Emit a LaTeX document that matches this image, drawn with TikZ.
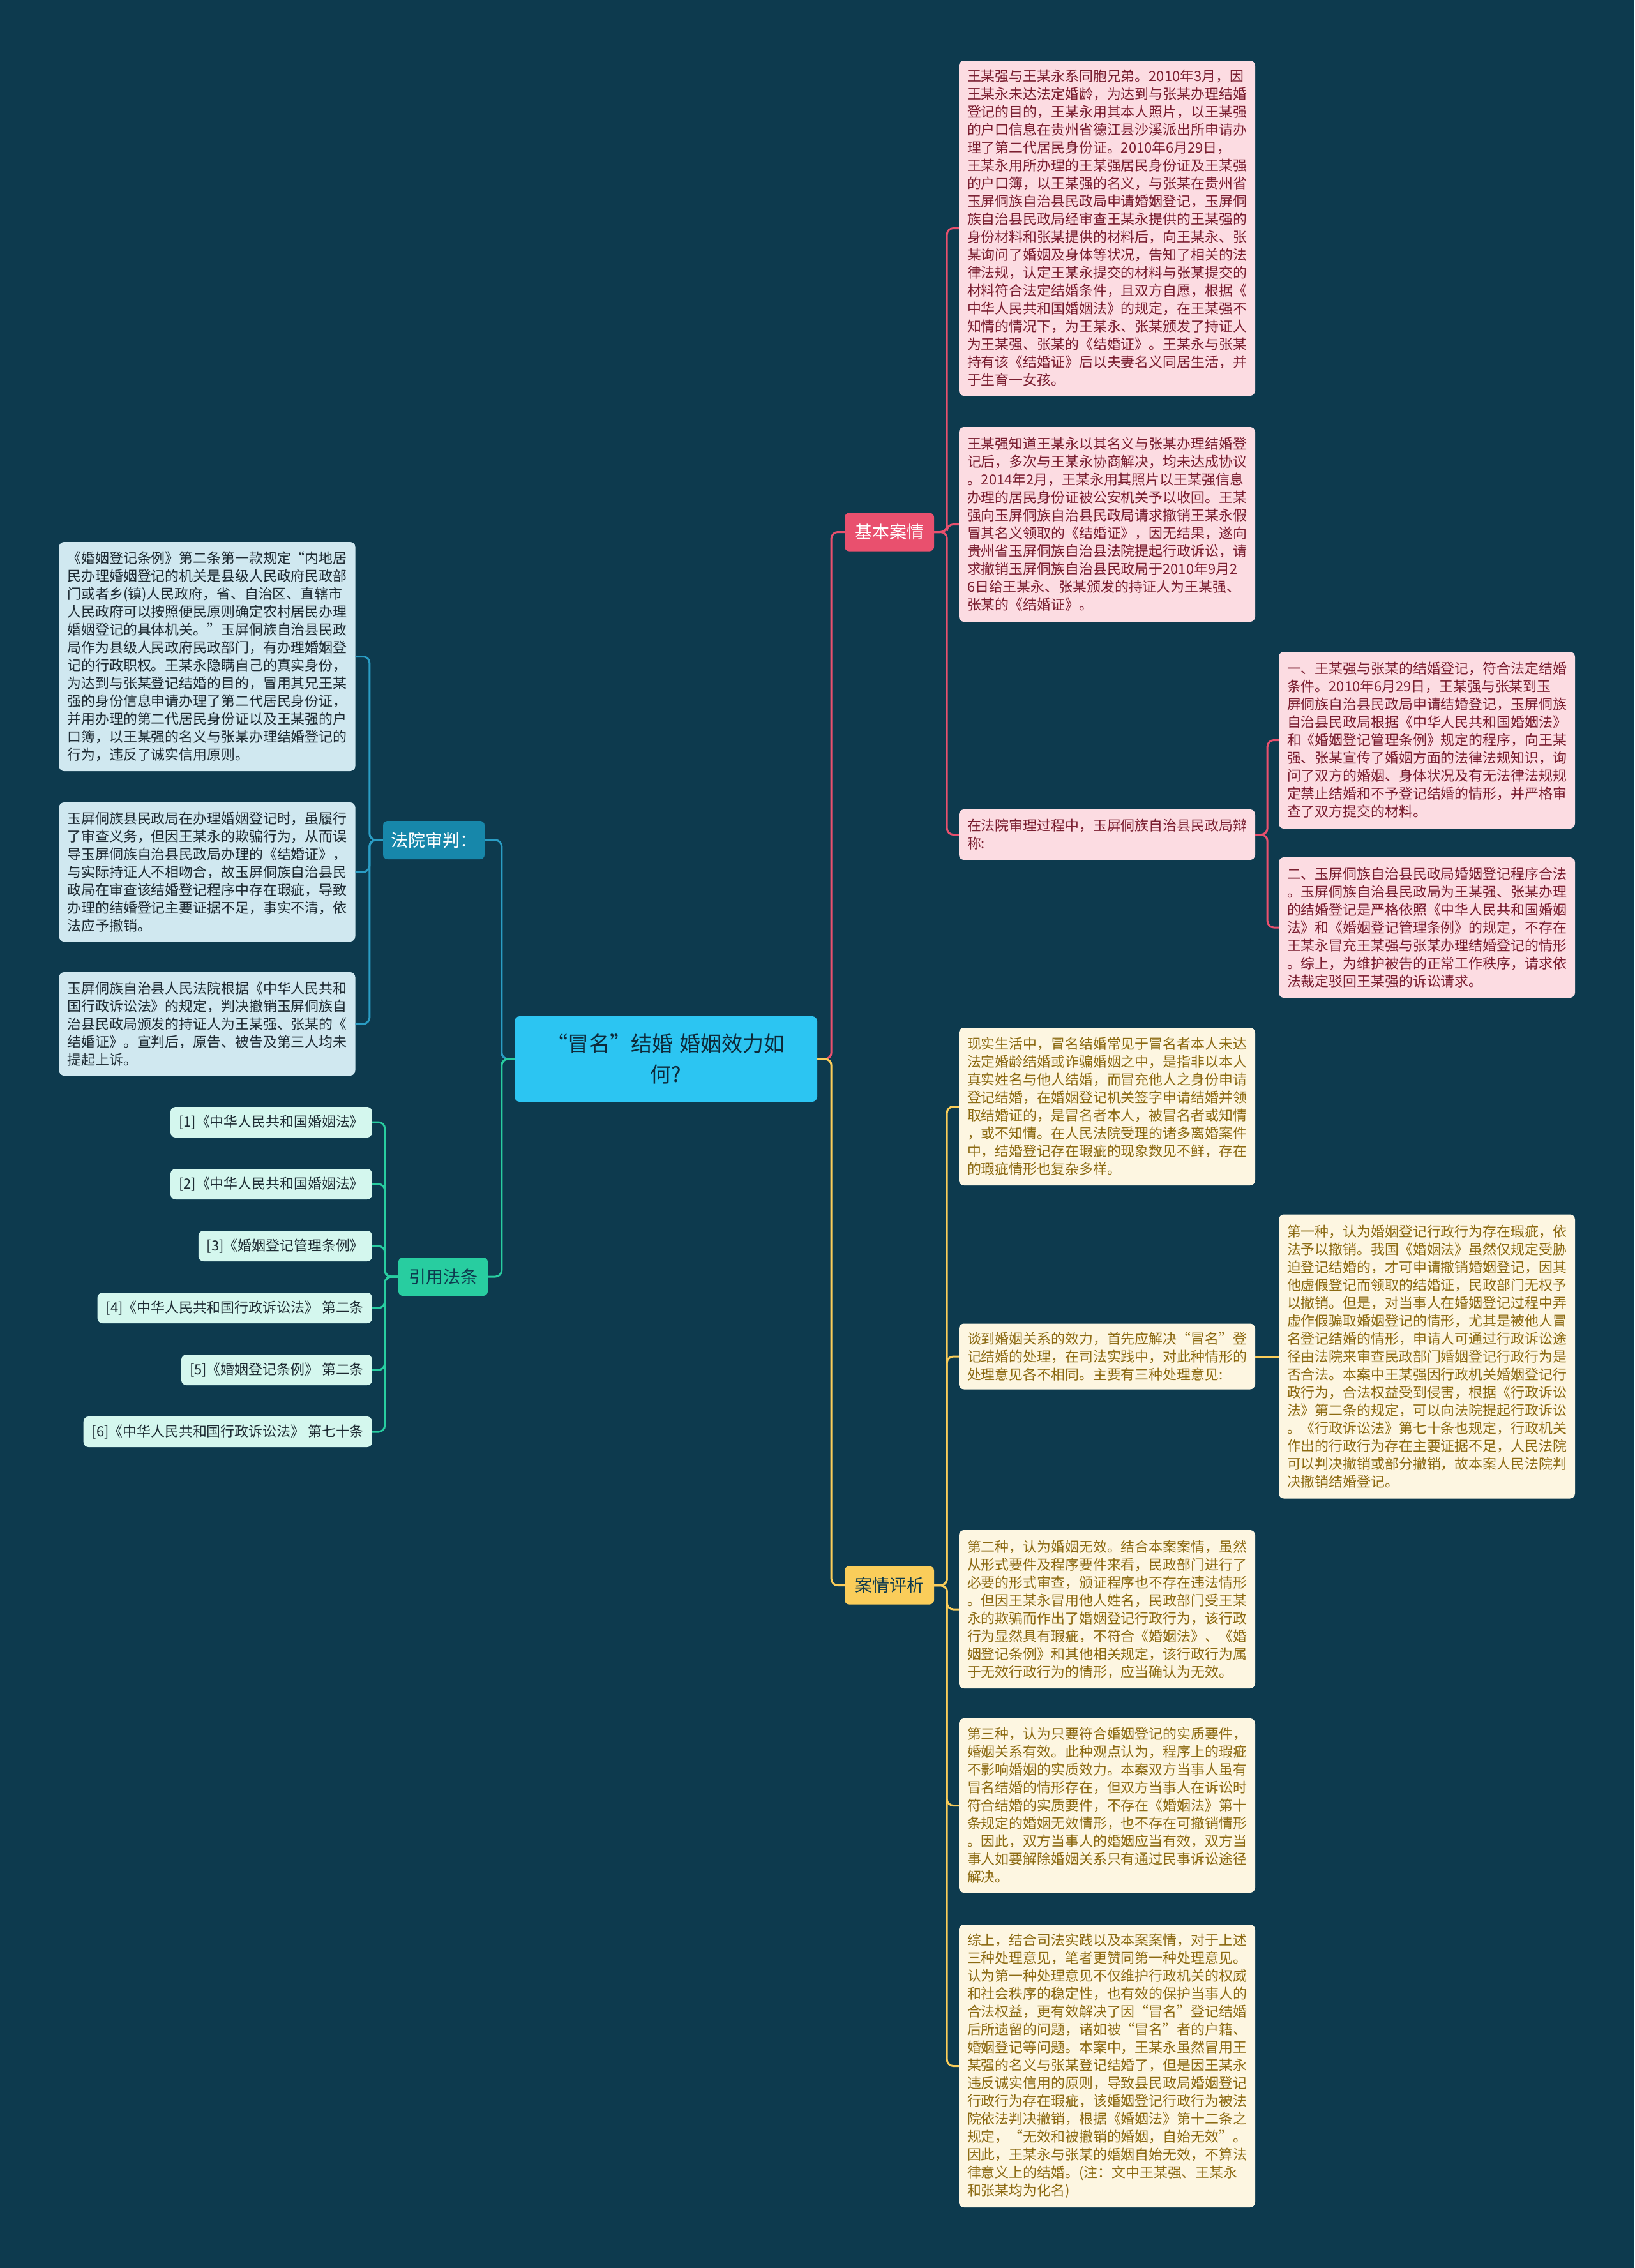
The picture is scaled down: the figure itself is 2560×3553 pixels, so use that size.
\documentclass[tikz,border=0pt]{standalone}
\usepackage{fontspec}
\newfontfamily\cjk{Noto Sans CJK SC}
\definecolor{bgcol}{HTML}{0D3A4E}
\definecolor{topicfill}{HTML}{2CC5F2}
\definecolor{topictext}{HTML}{0D2A3A}
\definecolor{pinkmain}{HTML}{E9506E}
\definecolor{pinkfill}{HTML}{FCDCE2}
\definecolor{pinktext}{HTML}{7A1E30}
\definecolor{bluemain}{HTML}{1787AA}
\definecolor{blueline}{HTML}{2A9DC4}
\definecolor{bluefill}{HTML}{D0E8F0}
\definecolor{greenmain}{HTML}{28CDA0}
\definecolor{mintfill}{HTML}{D4F7EE}
\definecolor{yellowmain}{HTML}{FACD5A}
\definecolor{creamfill}{HTML}{FDF6E1}
\definecolor{creamtext}{HTML}{8C6A12}
\definecolor{darktext}{HTML}{1E2B33}
\tikzset{
	leaf/.style = {rectangle, rounded corners=8pt, inner xsep=13pt, inner ysep=4pt, text width=438pt, align=left, font=\cjk\fontsize{21.9pt}{28pt}\selectfont},
	pinkleaf/.style = {leaf, fill=pinkfill, text=pinktext},
	blueleaf/.style = {leaf, fill=bluefill, text=darktext},
	creamleaf/.style = {leaf, fill=creamfill, text=creamtext},
	lawref/.style = {rectangle, rounded corners=8pt, fill=mintfill, text=darktext, inner xsep=13pt, minimum height=48pt, anchor=east, font=\cjk\fontsize{21.9pt}{26pt}\selectfont},
	branch/.style = {rectangle, rounded corners=7pt, inner xsep=12pt, minimum width=140pt, minimum height=60pt, font=\cjk\fontsize{27pt}{32pt}\selectfont},
	conn/.style = {line width=3pt, rounded corners=10pt}
}
\begin{document}
\begin{tikzpicture}[x=1pt, y=-1pt]
	\fill[bgcol] (0,0) rectangle (2560,3553);
	\useasboundingbox (0,0) rectangle (2560,3553);
	\node[rectangle, rounded corners=8pt, fill=topicfill, text=topictext, minimum width=474pt, minimum height=134pt, text width=440pt, align=center, font=\cjk\fontsize{33pt}{48pt}\selectfont] (topic) at (1043,1659) {“冒名”结婚 婚姻效力如\\何?};
	\node[branch, fill=pinkmain, text=white] (jb) at (1393,833.5) {基本案情};
	\node[branch, fill=bluemain, text=white] (fy) at (679.5,1316) {法院审判：};
	\node[branch, fill=greenmain, text=bgcol] (yy) at (694,2000) {引用法条};
	\node[branch, fill=yellowmain, text=bgcol] (ax) at (1393,2483.5) {案情评析};
	\node[pinkleaf, minimum height=525pt] (p1) at (1734,357.5) {王某强与王某永系同胞兄弟。2010年3月，因\\
王某永未达法定婚龄，为达到与张某办理结婚\\
登记的目的，王某永用其本人照片，以王某强\\
的户口信息在贵州省德江县沙溪派出所申请办\\
理了第二代居民身份证。2010年6月29日，\\
王某永用所办理的王某强居民身份证及王某强\\
的户口簿，以王某强的名义，与张某在贵州省\\
玉屏侗族自治县民政局申请婚姻登记，玉屏侗\\
族自治县民政局经审查王某永提供的王某强的\\
身份材料和张某提供的材料后，向王某永、张\\
某询问了婚姻及身体等状况，告知了相关的法\\
律法规，认定王某永提交的材料与张某提交的\\
材料符合法定结婚条件，且双方自愿，根据《\\
中华人民共和国婚姻法》的规定，在王某强不\\
知情的情况下，为王某永、张某颁发了持证人\\
为王某强、张某的《结婚证》。王某永与张某\\
持有该《结婚证》后以夫妻名义同居生活，并\\
于生育一女孩。};
	\node[pinkleaf, minimum height=305pt] (p2) at (1734,821.5) {王某强知道王某永以其名义与张某办理结婚登\\
记后，多次与王某永协商解决，均未达成协议\\
。2014年2月，王某永用其照片以王某强信息\\
办理的居民身份证被公安机关予以收回。王某\\
强向玉屏侗族自治县民政局请求撤销王某永假\\
冒其名义领取的《结婚证》，因无结果，遂向\\
贵州省玉屏侗族自治县法院提起行政诉讼，请\\
求撤销玉屏侗族自治县民政局于2010年9月2\\
6日给王某永、张某颁发的持证人为王某强、\\
张某的《结婚证》。};
	\node[pinkleaf, minimum height=79pt] (p3) at (1734,1307.5) {在法院审理过程中，玉屏侗族自治县民政局辩\\
称:};
	\node[pinkleaf, minimum height=277pt] (p3a) at (2235,1159.5) {一、王某强与张某的结婚登记，符合法定结婚\\
条件。2010年6月29日，王某强与张某到玉\\
屏侗族自治县民政局申请结婚登记，玉屏侗族\\
自治县民政局根据《中华人民共和国婚姻法》\\
和《婚姻登记管理条例》规定的程序，向王某\\
强、张某宣传了婚姻方面的法律法规知识，询\\
问了双方的婚姻、身体状况及有无法律法规规\\
定禁止结婚和不予登记结婚的情形，并严格审\\
查了双方提交的材料。};
	\node[pinkleaf, minimum height=220pt] (p3b) at (2235,1453) {二、玉屏侗族自治县民政局婚姻登记程序合法\\
。玉屏侗族自治县民政局为王某强、张某办理\\
的结婚登记是严格依照《中华人民共和国婚姻\\
法》和《婚姻登记管理条例》的规定，不存在\\
王某永冒充王某强与张某办理结婚登记的情形\\
。综上，为维护被告的正常工作秩序，请求依\\
法裁定驳回王某强的诉讼请求。};
	\node[blueleaf, minimum height=359pt] (l1) at (324.5,1028.5) {《婚姻登记条例》第二条第一款规定“内地居\\
民办理婚姻登记的机关是县级人民政府民政部\\
门或者乡(镇)人民政府，省、自治区、直辖市\\
人民政府可以按照便民原则确定农村居民办理\\
婚姻登记的具体机关。”玉屏侗族自治县民政\\
局作为县级人民政府民政部门，有办理婚姻登\\
记的行政职权。王某永隐瞒自己的真实身份，\\
为达到与张某登记结婚的目的，冒用其兄王某\\
强的身份信息申请办理了第二代居民身份证，\\
并用办理的第二代居民身份证以及王某强的户\\
口簿，以王某强的名义与张某办理结婚登记的\\
行为，违反了诚实信用原则。};
	\node[blueleaf, minimum height=218pt] (l2) at (324.5,1366) {玉屏侗族县民政局在办理婚姻登记时，虽履行\\
了审查义务，但因王某永的欺骗行为，从而误\\
导玉屏侗族自治县民政局办理的《结婚证》，\\
与实际持证人不相吻合，故玉屏侗族自治县民\\
政局在审查该结婚登记程序中存在瑕疵，导致\\
办理的结婚登记主要证据不足，事实不清，依\\
法应予撤销。};
	\node[blueleaf, minimum height=162pt] (l3) at (324.5,1604) {玉屏侗族自治县人民法院根据《中华人民共和\\
国行政诉讼法》的规定，判决撤销玉屏侗族自\\
治县民政局颁发的持证人为王某强、张某的《\\
结婚证》。宣判后，原告、被告及第三人均未\\
提起上诉。};
	\node[lawref] (r1) at (583,1758) {[1]《中华人民共和国婚姻法》};
	\node[lawref] (r2) at (583,1855) {[2]《中华人民共和国婚姻法》};
	\node[lawref] (r3) at (583,1952) {[3]《婚姻登记管理条例》};
	\node[lawref] (r4) at (583,2049) {[4]《中华人民共和国行政诉讼法》 第二条};
	\node[lawref] (r5) at (583,2146) {[5]《婚姻登记条例》 第二条};
	\node[lawref] (r6) at (583,2243) {[6]《中华人民共和国行政诉讼法》 第七十条};
	\node[creamleaf, minimum height=247pt] (y1) at (1734,1733.5) {现实生活中，冒名结婚常见于冒名者本人未达\\
法定婚龄结婚或诈骗婚姻之中，是指非以本人\\
真实姓名与他人结婚，而冒充他人之身份申请\\
登记结婚，在婚姻登记机关签字申请结婚并领\\
取结婚证的，是冒名者本人，被冒名者或知情\\
，或不知情。在人民法院受理的诸多离婚案件\\
中，结婚登记存在瑕疵的现象数见不鲜，存在\\
的瑕疵情形也复杂多样。};
	\node[creamleaf, minimum height=103pt] (y2) at (1734,2125) {谈到婚姻关系的效力，首先应解决“冒名”登\\
记结婚的处理，在司法实践中，对此种情形的\\
处理意见各不相同。主要有三种处理意见:};
	\node[creamleaf, minimum height=445pt] (y2a) at (2235,2125) {第一种，认为婚姻登记行政行为存在瑕疵，依\\
法予以撤销。我国《婚姻法》虽然仅规定受胁\\
迫登记结婚的，才可申请撤销婚姻登记，因其\\
他虚假登记而领取的结婚证，民政部门无权予\\
以撤销。但是，对当事人在婚姻登记过程中弄\\
虚作假骗取婚姻登记的情形，尤其是被他人冒\\
名登记结婚的情形，申请人可通过行政诉讼途\\
径由法院来审查民政部门婚姻登记行政行为是\\
否合法。本案中王某强因行政机关婚姻登记行\\
政行为，合法权益受到侵害，根据《行政诉讼\\
法》第二条的规定，可以向法院提起行政诉讼\\
。《行政诉讼法》第七十条也规定，行政机关\\
作出的行政行为存在主要证据不足，人民法院\\
可以判决撤销或部分撤销，故本案人民法院判\\
决撤销结婚登记。};
	\node[creamleaf, minimum height=248pt] (y3) at (1734,2521) {第二种，认为婚姻无效。结合本案案情，虽然\\
从形式要件及程序要件来看，民政部门进行了\\
必要的形式审查，颁证程序也不存在违法情形\\
。但因王某永冒用他人姓名，民政部门受王某\\
永的欺骗而作出了婚姻登记行政行为，该行政\\
行为显然具有瑕疵，不符合《婚姻法》、《婚\\
姻登记条例》和其他相关规定，该行政行为属\\
于无效行政行为的情形，应当确认为无效。};
	\node[creamleaf, minimum height=273pt] (y4) at (1734,2828.5) {第三种，认为只要符合婚姻登记的实质要件，\\
婚姻关系有效。此种观点认为，程序上的瑕疵\\
不影响婚姻的实质效力。本案双方当事人虽有\\
冒名结婚的情形存在，但双方当事人在诉讼时\\
符合结婚的实质要件，不存在《婚姻法》第十\\
条规定的婚姻无效情形，也不存在可撤销情形\\
。因此，双方当事人的婚姻应当有效，双方当\\
事人如要解除婚姻关系只有通过民事诉讼途径\\
解决。};
	\node[creamleaf, minimum height=443pt] (y5) at (1734,3236.5) {综上，结合司法实践以及本案案情，对于上述\\
三种处理意见，笔者更赞同第一种处理意见。\\
认为第一种处理意见不仅维护行政机关的权威\\
和社会秩序的稳定性，也有效的保护当事人的\\
合法权益，更有效解决了因“冒名”登记结婚\\
后所遗留的问题，诸如被“冒名”者的户籍、\\
婚姻登记等问题。本案中，王某永虽然冒用王\\
某强的名义与张某登记结婚了，但是因王某永\\
违反诚实信用的原则，导致县民政局婚姻登记\\
行政行为存在瑕疵，该婚姻登记行政行为被法\\
院依法判决撤销，根据《婚姻法》第十二条之\\
规定，“无效和被撤销的婚姻，自始无效”。\\
因此，王某永与张某的婚姻自始无效，不算法\\
律意义上的结婚。(注：文中王某强、王某永\\
和张某均为化名)};
	\draw[conn, pinkmain] (topic.east) -- ++(22,0) |- (jb.west);
	\draw[conn, yellowmain] (topic.east) -- ++(22,0) |- (ax.west);
	\draw[conn, blueline] (topic.west) -- ++(-20,0) |- (fy.east);
	\draw[conn, greenmain] (topic.west) -- ++(-20,0) |- (yy.east);
	\foreach \leaf in {p1,p2,p3}
		\draw[conn, pinkmain] (jb.east) -- ++(20,0) |- (\leaf.west);
	\foreach \leaf in {p3a,p3b}
		\draw[conn, pinkmain] (p3.east) -- ++(19,0) |- (\leaf.west);
	\foreach \leaf in {l1,l2,l3}
		\draw[conn, blueline] (fy.west) -- ++(-21,0) |- (\leaf.east);
	\foreach \leaf in {r1,r2,r3,r4,r5,r6}
		\draw[conn, greenmain] (yy.west) -- ++(-21,0) |- (\leaf.east);
	\foreach \leaf in {y1,y2,y3,y4,y5}
		\draw[conn, yellowmain] (ax.east) -- ++(20,0) |- (\leaf.west);
	\draw[conn, yellowmain] (y2.east) -- (y2a.west);
\end{tikzpicture}
\end{document}
